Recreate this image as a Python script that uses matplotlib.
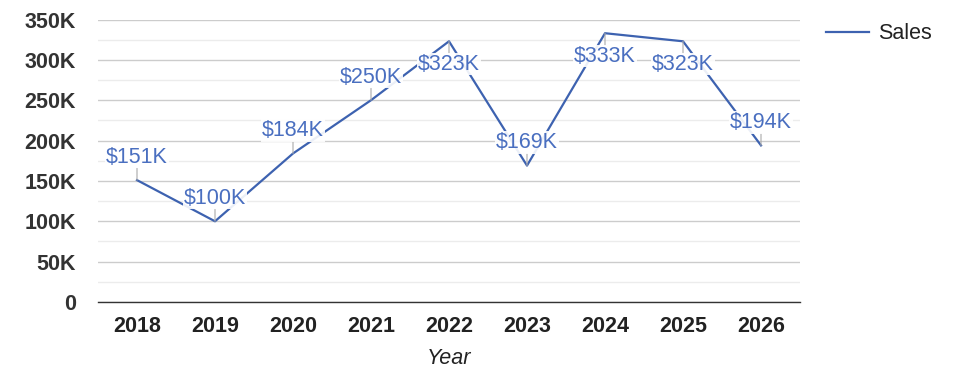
import matplotlib
matplotlib.use("Agg")
import matplotlib.pyplot as plt
from matplotlib.ticker import MultipleLocator, FuncFormatter

years = ["2018", "2019", "2020", "2021", "2022", "2023", "2024", "2025", "2026"]
sales = [151000, 100000, 184000, 250000, 323000, 169000, 333000, 323000, 194000]
series_name = "Sales"
x_title = "Year"

plt.rcParams['font.family'] = ['Liberation Sans', 'DejaVu Sans']

fig = plt.figure(figsize=(9.75, 3.78), dpi=100)
ax = fig.add_axes([98/975, 1-302/378, 702/975, (302-19.5)/378])

xs = list(range(len(years)))
line_color = '#3d62b0'
ax.plot(xs, sales, color=line_color, lw=1.6, label=series_name, zorder=3)

ax.set_xlim(-0.5, len(years) - 0.5)
ax.set_ylim(0, 350000)
ax.yaxis.set_major_locator(MultipleLocator(50000))
ax.yaxis.set_minor_locator(MultipleLocator(25000))
ax.yaxis.set_major_formatter(FuncFormatter(lambda v, p: "0" if v == 0 else f"{int(v/1000)}K"))
ax.grid(axis='y', which='major', color='#cccccc', lw=1.0, zorder=0)
ax.grid(axis='y', which='minor', color='#ececec', lw=1.0, zorder=0)
ax.set_axisbelow(True)

for s in ['top', 'right', 'left']:
    ax.spines[s].set_visible(False)
ax.spines['bottom'].set_color('#333333')
ax.spines['bottom'].set_linewidth(1.0)

ax.set_xticks(xs)
ax.set_xticklabels(years)
ax.tick_params(axis='both', which='both', length=0)
ax.tick_params(axis='y', pad=16, labelsize=15.5, labelcolor='#333333')
ax.tick_params(axis='x', pad=10, labelsize=15.5, labelcolor='#222222')
for lab in ax.get_xticklabels() + ax.get_yticklabels():
    lab.set_fontweight('bold')

ax.set_xlabel(x_title, fontsize=15.5, style='italic', color='#222222', labelpad=8)

for x, v in zip(xs, sales):
    off = -23 if v > 300000 else 23
    ax.annotate(f"${int(round(v/1000))}K", xy=(x, v), xytext=(0, off),
                textcoords='offset pixels', ha='center', va='center',
                fontsize=15.5, color='#4a6fc0', zorder=5,
                bbox=dict(fc='white', ec='none', pad=0.5, alpha=0.9),
                arrowprops=dict(arrowstyle='-', color='#aaaaaa', lw=0.8,
                                shrinkA=0, shrinkB=0))

leg = fig.legend(loc='upper left', bbox_to_anchor=(807/975, 1-4/378), frameon=False,
                 fontsize=15.5, handlelength=2.0, handletextpad=0.4)
for t in leg.get_texts():
    t.set_color('#222222')

fig.savefig("out.png", dpi=100)
